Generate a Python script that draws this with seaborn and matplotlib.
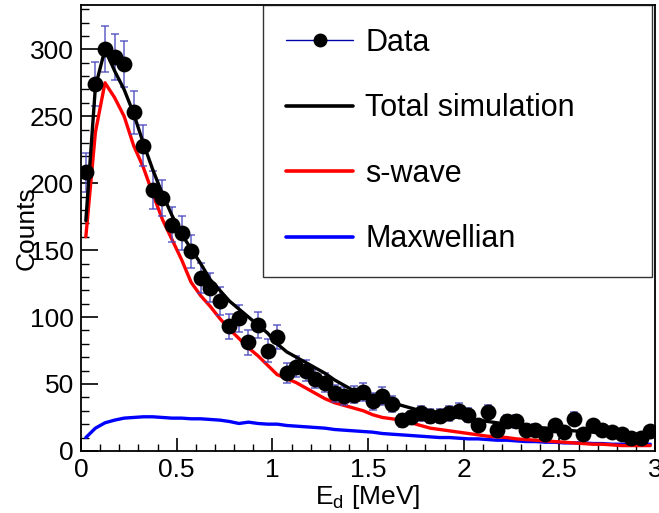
import numpy as np
import pandas as pd
import matplotlib
matplotlib.use("Agg")
import matplotlib.pyplot as plt
import seaborn as sns
from matplotlib.lines import Line2D
from matplotlib.ticker import MultipleLocator, FuncFormatter

# ---------------- data ----------------
energy = [0.025, 0.075, 0.125, 0.175, 0.225, 0.275, 0.325, 0.375, 0.425, 0.475,
          0.525, 0.575, 0.625, 0.675, 0.725, 0.775, 0.825, 0.875, 0.925, 0.975,
          1.025, 1.075, 1.125, 1.175, 1.225, 1.275, 1.325, 1.375, 1.425, 1.475,
          1.525, 1.575, 1.625, 1.675, 1.725, 1.775, 1.825, 1.875, 1.925, 1.975,
          2.025, 2.075, 2.125, 2.175, 2.225, 2.275, 2.325, 2.375, 2.425, 2.475,
          2.525, 2.575, 2.625, 2.675, 2.725, 2.775, 2.825, 2.875, 2.925, 2.975]

data_counts = [208, 274, 300, 294, 289, 253, 228, 195, 189, 169,
               163, 149, 129, 122, 112, 93, 99, 81, 94, 75,
               85, 58, 63, 60, 54, 51, 43, 41, 42, 44,
               37, 41, 35, 23, 25, 28, 26, 26, 28, 30,
               27, 19, 29, 16, 22, 22, 16, 16, 13, 19,
               14, 24, 13, 19, 16, 14, 13, 10, 10, 15]

total_sim = [172, 272, 300, 284, 270, 252, 230, 210, 192, 176,
             162, 151, 140, 128, 120, 112, 106, 100, 94, 88,
             80, 74, 70, 66, 62, 58, 53, 49, 45, 42,
             40, 38, 36, 34, 32, 30, 28, 27, 26, 25,
             24, 23, 22, 21, 20, 19.5, 19, 18, 17, 16.5,
             16, 15, 14.5, 14, 13, 12.5, 12, 11, 10.5, 10]

s_wave = [160, 238, 275, 264, 250, 228, 212, 192, 173, 158,
          143, 126, 116, 108, 99, 91, 84, 77, 71, 64,
          57, 54, 51, 47, 43, 39, 36, 34, 32, 30,
          27, 25, 24, 23, 21, 19, 17, 16, 15, 14,
          13, 12, 11, 10.5, 10, 9, 8.5, 8, 7.5, 7,
          6.5, 6, 5.5, 5, 5, 4.5, 4, 4, 4, 4]

maxwellian = [10, 17, 21, 23, 24.5, 25, 25.5, 25.5, 25, 24.5,
              24.5, 24, 24, 23.5, 23, 22, 20.5, 21.5, 20.5, 20,
              20, 19, 18.5, 18, 17.5, 17, 16, 15.5, 15, 14.5,
              14, 13, 12.5, 12, 11.5, 11, 10.5, 10, 10, 9.5,
              9, 9, 8.5, 8, 8, 7.5, 7, 7, 6.5, 6.5,
              6, 6, 6, 5.5, 5.5, 5, 5, 5, 5, 5]

legend_labels = ["Data", "Total simulation", "s-wave", "Maxwellian"]

# ---------------- styling ----------------
sns.set_style("white")
plt.rcParams["font.family"] = ["Liberation Sans", "DejaVu Sans"]
plt.rcParams["mathtext.fontset"] = "custom"
plt.rcParams["mathtext.rm"] = "Liberation Sans"
plt.rcParams["mathtext.it"] = "Liberation Sans"
plt.rcParams["mathtext.default"] = "regular"
for k in ["text.color", "axes.labelcolor", "xtick.color", "ytick.color"]:
    plt.rcParams[k] = "black"

fig = plt.figure(figsize=(6.59, 5.13), dpi=100)
ax = fig.add_axes([0.123, 0.121, 0.871, 0.869])

df = pd.DataFrame({"E": energy, "counts": data_counts, "total": total_sim,
                   "swave": s_wave, "maxw": maxwellian})
err = np.sqrt(df["counts"].to_numpy())

sns.lineplot(data=df, x="E", y="maxw", ax=ax, color="#0000ff", lw=2.4, zorder=2)
sns.lineplot(data=df, x="E", y="swave", ax=ax, color="#ff0000", lw=2.4, zorder=2)
ax.errorbar(df["E"], df["counts"], yerr=err, fmt="none", ecolor="#4646c0",
            elinewidth=1.1, capsize=3.2, capthick=1.1, alpha=0.85, zorder=3)
sns.scatterplot(data=df, x="E", y="counts", ax=ax, color="black", s=130,
                edgecolor="black", linewidth=0, zorder=4)
sns.lineplot(data=df, x="E", y="total", ax=ax, color="black", lw=2.4, zorder=5)

ax.set_xlim(0, 3)
ax.set_ylim(0, 333)
ax.xaxis.set_major_locator(MultipleLocator(0.5))
ax.xaxis.set_minor_locator(MultipleLocator(0.1))
ax.yaxis.set_major_locator(MultipleLocator(50))
ax.yaxis.set_minor_locator(MultipleLocator(10))
ax.xaxis.set_major_formatter(FuncFormatter(lambda v, p: f"{v:g}"))

ax.tick_params(axis="both", which="both", direction="in", colors="black",
               labelsize=19, top=False, right=False, bottom=True, left=True)
ax.tick_params(axis="y", which="major", length=12, width=1.2, pad=5)
ax.tick_params(axis="y", which="minor", length=6, width=1.0)
ax.tick_params(axis="x", which="major", length=9.5, width=1.2, pad=5)
ax.tick_params(axis="x", which="minor", length=5, width=1.0)

for sp in ax.spines.values():
    sp.set_visible(True)
    sp.set_color("black")
    sp.set_linewidth(1.3)

ax.set_xlabel("E$_{d}$ [MeV]", fontsize=19, labelpad=1)
ax.set_ylabel("Counts", fontsize=19, labelpad=-6)

handles = [
    Line2D([0], [0], color="#0000aa", lw=1.0, marker="o", markersize=9,
           markerfacecolor="black", markeredgecolor="black"),
    Line2D([0], [0], color="black", lw=2.6),
    Line2D([0], [0], color="#ff0000", lw=2.6),
    Line2D([0], [0], color="#0000ff", lw=2.6),
]
leg = ax.legend(handles, legend_labels, loc="upper left",
                bbox_to_anchor=(0.317, 0.401, 0.678, 0.599), mode="expand",
                fontsize=22, frameon=True, fancybox=False, shadow=False,
                borderpad=0.75, labelspacing=1.16, handlelength=2.2,
                handletextpad=0.4, borderaxespad=0.0)
leg.get_frame().set_edgecolor("black")
leg.get_frame().set_linewidth(1.0)

fig.savefig("out.png", dpi=100)
